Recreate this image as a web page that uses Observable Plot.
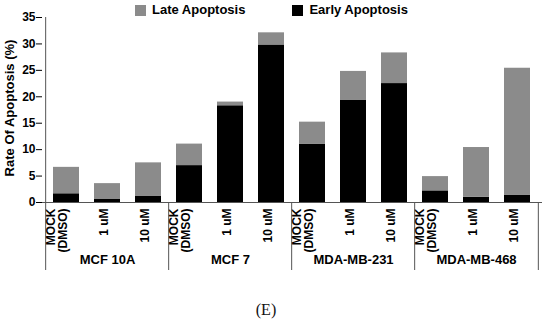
<!DOCTYPE html>
<html><head><meta charset="utf-8">
<script src="https://cdn.jsdelivr.net/npm/d3@7"></script>
<script src="https://cdn.jsdelivr.net/npm/@observablehq/plot@0.6"></script>
<style>
body{margin:0;background:#fff;}
#wrap{position:relative;width:550px;height:320px;font-family:"Liberation Sans",Arial,sans-serif;}
#chart{position:absolute;top:0;left:0;}
#legend{position:absolute;top:2px;left:135px;display:flex;align-items:center;font-weight:bold;font-size:13px;line-height:16px;color:#000;}
#legend .sw{display:inline-block;width:11px;height:11px;margin-right:6px;}
#legend .item{display:flex;align-items:center;}
#caption{position:absolute;top:301px;left:0;width:532px;text-align:center;font-family:"Liberation Serif","Times New Roman",serif;font-size:16px;line-height:18px;color:#111;}
</style>
</head><body>
<div id="wrap">
  <div id="chart"></div>
  <div id="legend"></div>
  <div id="caption">(E)</div>
</div>
<script>
const groups = ["MCF 10A", "MCF 7", "MDA-MB-231", "MDA-MB-468"];
const doses = ["MOCK\n(DMSO)", "1 uM", "10 uM"];
const seriesNames = ["Early Apoptosis", "Late Apoptosis"];
const legendOrder = ["Late Apoptosis", "Early Apoptosis"];
// per bar, in order group x dose
const earlyValues = [1.65, 0.57, 1.14, 6.98, 18.3, 29.8, 11.05, 19.3, 22.5, 2.2, 1.0, 1.33];
const lateValues  = [5.0, 3.0, 6.36, 4.07, 0.7, 2.3, 4.15, 5.5, 5.8, 2.7, 9.4, 24.07];
const yTicks = [0, 5, 10, 15, 20, 25, 30, 35];
const colors = {"Early Apoptosis": "#000000", "Late Apoptosis": "#8b8b8b"};

const keys = [];
const bars = [];
groups.forEach((g, gi) => doses.forEach((d, di) => {
  keys.push(g + "|" + d);
  bars.push({key: g + "|" + d, group: g, dose: d, i: gi * 3 + di});
}));
const rows = [];
seriesNames.forEach(s => bars.forEach(b => rows.push({
  key: b.key, series: s, value: s === "Early Apoptosis" ? earlyValues[b.i] : lateValues[b.i]
})));

const W = 550, H = 290, ML = 42, MR = 8, MT = 17, MB = 88;
const step = (W - ML - MR) / keys.length;
const frameH = H - MT - MB;
const ink = "#555";

const chart = Plot.plot({
  width: W, height: H, marginLeft: ML, marginRight: MR, marginTop: MT, marginBottom: MB,
  style: {fontFamily: "'Liberation Sans', Arial, sans-serif", fontSize: "12px", fontWeight: "bold", color: "#000", background: "transparent"},
  x: {type: "band", domain: keys, paddingInner: 0.36, paddingOuter: 0.18, axis: null},
  y: {domain: [0, 35], ticks: yTicks, tickSize: 6, tickPadding: 1, label: null},
  color: {domain: seriesNames, range: seriesNames.map(s => colors[s])},
  marks: [
    Plot.barY(rows, {x: "key", y: "value", fill: "series", z: "series"}),
    Plot.ruleY([0], {stroke: ink}),
    Plot.ruleX([keys[0]], {x: d => d, dx: -step / 2, stroke: ink, insetBottom: -68}),
    Plot.ruleX(groups.slice(1), {x: g => g + "|" + doses[0], dx: -step / 2, stroke: ink, insetTop: frameH, insetBottom: -68}),
    Plot.ruleX([keys[keys.length - 1]], {x: d => d, dx: step / 2, stroke: ink, insetTop: frameH, insetBottom: -68}),
    Plot.text(bars, {x: "key", text: "dose", rotate: -90, textAnchor: "end", frameAnchor: "bottom", dy: 6, lineHeight: 0.92, fill: "#000"}),
    Plot.text(groups, {x: g => g + "|" + doses[1], text: d => d, frameAnchor: "bottom", dy: 61, fontSize: 13, fill: "#000"}),
    Plot.text(["Rate Of Apoptosis (%)"], {text: d => d, frameAnchor: "left", textAnchor: "middle", rotate: -90, dx: -33, dy: -2, fontSize: 13, fill: "#000"})
  ]
});
document.getElementById("chart").appendChild(chart);

const legend = document.getElementById("legend");
legendOrder.forEach((s, i) => {
  const item = document.createElement("span");
  item.className = "item";
  if (i > 0) item.style.marginLeft = "47px";
  const sw = document.createElement("span");
  sw.className = "sw";
  sw.style.background = colors[s];
  item.appendChild(sw);
  item.appendChild(document.createTextNode(s));
  legend.appendChild(item);
});
</script>
</body></html>
